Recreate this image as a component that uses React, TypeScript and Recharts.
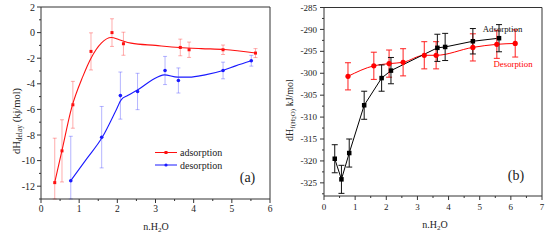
import React from 'react';
import { ComposedChart, Line, Scatter, XAxis, YAxis, ErrorBar, ReferenceLine } from 'recharts';

const FONT = '"Liberation Serif", "Times New Roman", serif';

// ---------- Panel (a) ----------
const aXTicks = [0, 0.5, 1, 1.5, 2, 2.5, 3, 3.5, 4, 4.5, 5, 5.5, 6];
const aYTicks = [-13, -12, -11, -10, -9, -8, -7, -6, -5, -4, -3, -2, -1, 0, 1, 2];
const aYMajor = [-12, -10, -8, -6, -4, -2, 0, 2];

const adsX = [0.36, 0.55, 0.835, 1.31, 1.86, 2.16, 3.65, 3.88, 4.77, 5.62];
const adsY = [-11.72, -9.24, -5.64, -1.47, 0.0, -0.87, -1.16, -1.34, -1.34, -1.6];
// [down, up] error extents (the lowest bars are cut by the axis at -13)
const adsErrDown = [1.28, 2.43, 1.83, 1.45, 1.08, 0.9, 0.65, 0.6, 0.37, 0.35];
const adsErrUp = [3.47, 2.43, 1.83, 1.45, 1.08, 0.9, 0.65, 0.6, 0.37, 0.35];

const desX = [0.78, 1.59, 2.08, 2.53, 3.25, 3.6, 4.77, 5.51];
const desY = [-11.57, -8.17, -4.92, -4.6, -2.96, -3.74, -2.96, -2.2];
const desErrDown = [1.43, 2.4, 1.84, 1.42, 1.1, 0.98, 0.65, 0.42];
const desErrUp = [3.47, 2.4, 1.84, 1.42, 1.1, 0.98, 0.65, 0.42];

const adsFitX = [0.36, 0.55, 0.8, 1.1, 1.31, 1.58, 1.84, 2.05, 2.36, 3.0, 3.62, 4.2, 4.8, 5.62];
const adsFitY = [-11.7, -9.2, -5.9, -3.4, -2.0, -0.82, -0.38, -0.56, -0.82, -1.0, -1.16, -1.25, -1.32, -1.6];

const desFitX = [0.78, 1.2, 1.6, 1.97, 2.1, 2.27, 2.58, 2.92, 3.23, 3.58, 3.88, 4.3, 4.77, 5.1, 5.51];
const desFitY = [-11.57, -9.85, -8.2, -6.04, -5.25, -4.92, -4.39, -3.69, -3.3, -3.48, -3.48, -3.3, -2.96, -2.6, -2.2];

// ---------- Panel (b) ----------
const bXTicks = [0, 0.5, 1, 1.5, 2, 2.5, 3, 3.5, 4, 4.5, 5, 5.5, 6, 6.5, 7];
const bYTicks = [-327.5, -325, -322.5, -320, -317.5, -315, -312.5, -310, -307.5, -305, -302.5, -300, -297.5, -295, -292.5, -290, -287.5, -285];
const bYMajor = [-325, -320, -315, -310, -305, -300, -295, -290, -285];

const bAdsX = [0.345, 0.56, 0.81, 1.29, 1.85, 2.15, 3.64, 3.89, 4.78, 5.62];
const bAdsY = [-319.5, -324.2, -318.2, -307.3, -301.1, -299.4, -294.2, -294.0, -292.7, -292.0];
const bAdsErr = [3.2, 3.2, 3.2, 3.2, 3.0, 3.0, 3.1, 3.1, 2.9, 3.1];

const bDesX = [0.77, 1.6, 2.09, 2.54, 3.22, 3.6, 4.78, 5.55, 6.14];
const bDesY = [-300.7, -298.3, -297.8, -297.5, -295.9, -295.9, -294.1, -293.4, -293.2];
const bDesErr = [3.1, 3.1, 3.1, 3.1, 3.1, 3.1, 3.1, 3.2, 3.1];

const rows = (xs: number[], ys: number[]) => xs.map((x, i) => ({ x, y: ys[i] }));
const errRows = (xs: number[], ys: number[], down: number[], up: number[]) =>
  xs.map((x, i) => ({ x, y: ys[i], err: [down[i], up[i]] }));

const AXIS = '#333';

const makeYTick = (majors: number[], fontSize: number, gap: number) => (props: any) => {
  const { x, y, payload } = props;
  const major = majors.includes(payload.value);
  return (
    <g>
      <line x1={x - (major ? 4 : 2)} x2={x} y1={y} y2={y} stroke={AXIS} strokeWidth={1} />
      {major && (
        <text x={x - gap} y={y} dy="0.35em" textAnchor="end" fontSize={fontSize} fontFamily={FONT} fill="#222">
          {payload.value}
        </text>
      )}
    </g>
  );
};

const makeXTick = (fontSize: number, gap: number) => (props: any) => {
  const { x, y, payload } = props;
  const major = Number.isInteger(payload.value);
  return (
    <g>
      <line x1={x} x2={x} y1={y} y2={y + (major ? 4 : 2)} stroke={AXIS} strokeWidth={1} />
      {major && (
        <text x={x} y={y + gap} textAnchor="middle" fontSize={fontSize} fontFamily={FONT} fill="#222">
          {payload.value}
        </text>
      )}
    </g>
  );
};

const square = (size: number, color: string) => (p: any) =>
  <rect x={p.cx - size / 2} y={p.cy - size / 2} width={size} height={size} fill={color} />;
const circle = (r: number, color: string) => (p: any) =>
  <circle cx={p.cx} cy={p.cy} r={r} fill={color} />;

const PanelA = () => (
  <ComposedChart width={280} height={240} margin={{ top: 7, right: 10, left: 11, bottom: 11 }}>
    <XAxis
      type="number" dataKey="x" domain={[0, 6]} ticks={aXTicks} interval={0}
      height={30} tickSize={0} tickMargin={0} tickLine={false}
      axisLine={{ stroke: AXIS }} tick={makeXTick(9.5, 13)}
    />
    <YAxis
      type="number" dataKey="y" domain={[-13, 2]} ticks={aYTicks} interval={0} allowDataOverflow
      width={30} tickSize={0} tickMargin={0} tickLine={false}
      axisLine={{ stroke: AXIS }} tick={makeYTick(aYMajor, 10, 6)}
    />
    <ReferenceLine y={2} stroke={AXIS} />
    <ReferenceLine x={6} stroke={AXIS} />
    <Line data={rows(adsFitX, adsFitY)} dataKey="y" type="monotone" dot={false} stroke="#ff1010" strokeWidth={1.1} isAnimationActive={false} />
    <Line data={rows(desFitX, desFitY)} dataKey="y" type="monotone" dot={false} stroke="#1a1aff" strokeWidth={1.1} isAnimationActive={false} />
    <Scatter data={errRows(adsX, adsY, adsErrDown, adsErrUp)} dataKey="y" shape={square(3, '#ff1010')} isAnimationActive={false}>
      <ErrorBar dataKey="err" direction="y" width={2} stroke="rgba(255,40,40,0.38)" strokeWidth={1} />
    </Scatter>
    <Scatter data={errRows(desX, desY, desErrDown, desErrUp)} dataKey="y" shape={circle(1.8, '#1a1aff')} isAnimationActive={false}>
      <ErrorBar dataKey="err" direction="y" width={2} stroke="rgba(60,60,255,0.38)" strokeWidth={1} />
    </Scatter>
  </ComposedChart>
);

const PanelB = () => (
  <ComposedChart width={272} height={240} margin={{ top: 7.5, right: 5, left: 14, bottom: 14 }}>
    <XAxis
      type="number" dataKey="x" domain={[0, 7]} ticks={bXTicks} interval={0}
      height={30} tickSize={0} tickMargin={0} tickLine={false}
      axisLine={{ stroke: AXIS }} tick={makeXTick(9, 13.5)}
    />
    <YAxis
      type="number" dataKey="y" domain={[-328, -285]} ticks={bYTicks} interval={0} allowDataOverflow
      width={35} tickSize={0} tickMargin={0} tickLine={false}
      axisLine={{ stroke: AXIS }} tick={makeYTick(bYMajor, 9, 7)}
    />
    <ReferenceLine y={-285} stroke={AXIS} />
    <ReferenceLine x={7} stroke={AXIS} />
    <Line data={rows(bDesX, bDesY)} dataKey="y" type="monotone" dot={false} stroke="#ff0000" strokeWidth={1} isAnimationActive={false} />
    <Line data={rows(bAdsX, bAdsY)} dataKey="y" type="linear" dot={false} stroke="#000" strokeWidth={1} isAnimationActive={false} />
    <Scatter data={errRows(bDesX, bDesY, bDesErr, bDesErr)} dataKey="y" shape={circle(2.6, '#ff0000')} isAnimationActive={false}>
      <ErrorBar dataKey="err" direction="y" width={3} stroke="#ff2020" strokeWidth={1} />
    </Scatter>
    <Scatter data={errRows(bAdsX, bAdsY, bAdsErr, bAdsErr)} dataKey="y" shape={square(4.5, '#000')} isAnimationActive={false}>
      <ErrorBar dataKey="err" direction="y" width={3} stroke="#111" strokeWidth={1} />
    </Scatter>
  </ComposedChart>
);

export default function App() {
  return (
    <div style={{ position: 'absolute', left: 0, top: 0, width: 547, height: 240, background: '#fff', overflow: 'hidden' }}>
      <div style={{ position: 'absolute', left: 0, top: 0 }}>
        <PanelA />
      </div>
      <div style={{ position: 'absolute', left: 275, top: 0 }}>
        <PanelB />
      </div>
      <svg width={547} height={240} style={{ position: 'absolute', left: 0, top: 0, pointerEvents: 'none' }} fontFamily={FONT}>
        {/* Panel (a) labels */}
        <text transform="translate(19.5,121) rotate(-90)" textAnchor="middle" fontSize={10.5} fill="#222">
          dH<tspan fontSize={7.5} dy={2}>delay</tspan><tspan dy={-2}> (kj/mol)</tspan>
        </text>
        <text x={156} y={230} textAnchor="middle" fontSize={10} fill="#222">
          n.H<tspan fontSize={7} dy={2}>2</tspan><tspan dy={-2}>O</tspan>
        </text>
        <line x1={155} x2={177} y1={152.5} y2={152.5} stroke="#ff1010" strokeWidth={1} />
        <rect x={164.5} y={151} width={3} height={3} fill="#ff1010" />
        <text x={180} y={156} fontSize={10} fill="#222">adsorption</text>
        <line x1={155} x2={177} y1={165} y2={165} stroke="#1a1aff" strokeWidth={1} />
        <circle cx={166} cy={165} r={1.6} fill="#1a1aff" />
        <text x={180} y={168.5} fontSize={10} fill="#222">desorption</text>
        <text x={247.5} y={181.5} textAnchor="middle" fontSize={14} fill="#222">(a)</text>

        {/* Panel (b) labels */}
        <text transform="translate(293,110) rotate(-90)" textAnchor="middle" fontSize={10} fill="#222">
          dH<tspan fontSize={7} dy={2}>f(H</tspan><tspan fontSize={5.5} dy={1.2}>2</tspan><tspan fontSize={7} dy={-1.2}>O)</tspan><tspan fontSize={10} dy={-2}> kJ/mol</tspan>
        </text>
        <text x={435} y={228} textAnchor="middle" fontSize={10} fill="#222">
          n.H<tspan fontSize={7} dy={2}>2</tspan><tspan dy={-2}>O</tspan>
        </text>
        <text x={502.5} y={31.5} textAnchor="middle" fontSize={8.8} fill="#111">Adsorption</text>
        <text x={513} y={66.5} textAnchor="middle" fontSize={8.8} fill="#ff0000">Desorption</text>
        <text x={516} y={180} textAnchor="middle" fontSize={14} fill="#222">(b)</text>
      </svg>
    </div>
  );
}
